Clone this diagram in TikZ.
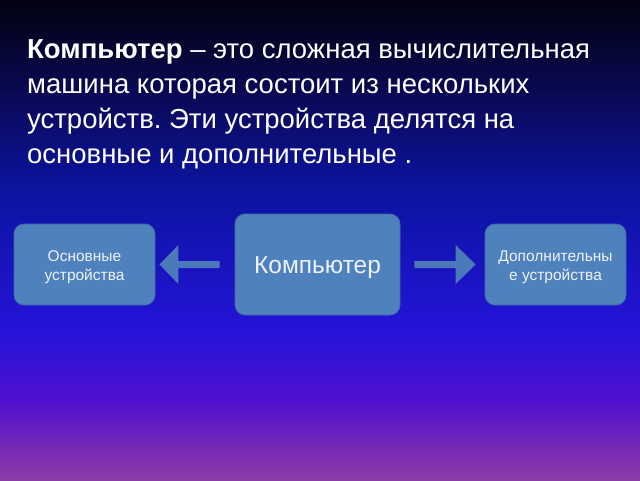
\documentclass[tikz,border=0pt]{standalone}
\usepackage{fontspec}
\setmainfont{Liberation Sans}
\usetikzlibrary{calc}
\frenchspacing
\definecolor{bg0}{HTML}{02020F}
\definecolor{bg1}{HTML}{0A0A5A}
\definecolor{bg2}{HTML}{0C14A0}
\definecolor{bg3}{HTML}{2414D8}
\definecolor{bg4}{HTML}{5010D0}
\definecolor{bg5}{HTML}{8030B0}
\definecolor{bg6}{HTML}{8A3CA8}
\definecolor{boxfill}{HTML}{4F81BD}
\definecolor{boxline}{HTML}{3D6AA6}
\definecolor{arrowcol}{HTML}{4A78B8}
\definecolor{boxtext}{HTML}{EEF2FA}
\pgfdeclareverticalshading{slidebg}{100bp}{%
  color(0bp)=(bg6); color(25bp)=(bg6); color(27.1bp)=(bg5); color(33.3bp)=(bg4);
  color(40.6bp)=(bg3); color(55.2bp)=(bg2); color(64.6bp)=(bg1); color(75bp)=(bg0); color(100bp)=(bg0)}
\newcommand{\lowered}[1]{\raisebox{-3pt}[\height][\depth]{\begin{tabular}{@{}c@{}}#1\end{tabular}}}
\tikzset{
  devbox/.style={draw=boxline, line width=0.8pt, fill=boxfill, rounded corners=10pt,
    text=boxtext, align=center, inner sep=0pt},
  titleline/.style={anchor=base west, text=white, inner sep=0pt,
    font=\fontsize{27.5}{32}\selectfont},
  blockarrow/.style={fill=arrowcol}
}
\begin{document}
\begin{tikzpicture}[x=1pt,y=-1pt]
\shade[shading=slidebg] (0,0) rectangle (640,480);
\useasboundingbox (0,0) rectangle (640,480);
\node[titleline] (t1) at (27,58) {\textbf{Компьютер} – это сложная вычислительная};
\node[titleline] (t2) at (27,93) {машина которая состоит из нескольких};
\node[titleline] (t3) at (27,128) {устройств. Эти устройства делятся на};
\node[titleline] (t4) at (27,163) {основные и дополнительные .};
\node[devbox, minimum width=141pt, minimum height=81pt,
  font=\fontsize{15.5}{18.5}\selectfont] (l) at (84.5,264.5) {\lowered{Основные\\устройства}};
\node[devbox, minimum width=165pt, minimum height=101pt,
  font=\fontsize{24.5}{28}\selectfont] (c) at (317.5,264.5) {\lowered{Компьютер}};
\node[devbox, minimum width=141pt, minimum height=81pt,
  font=\fontsize{15.5}{18.5}\selectfont] (r) at (555.5,264.5) {\lowered{Дополнительны\\е устройства}};
% left arrow
\coordinate (ls) at ($(c.west)+(-15,0)$);
\coordinate (lt) at ($(l.east)+(4,0)$);
\coordinate (lh) at ($(lt)+(19,0)$);
\fill[blockarrow] ($(ls)+(0,-3.5)$) -- ($(lh)+(0,-3.5)$) -- ($(lh)+(0,-19.5)$) -- (lt)
  -- ($(lh)+(0,19.5)$) -- ($(lh)+(0,3.5)$) -- ($(ls)+(0,3.5)$) -- cycle;
% right arrow
\coordinate (rs) at ($(c.east)+(14,0)$);
\coordinate (rt) at ($(r.west)+(-9,0)$);
\coordinate (rh) at ($(rt)+(-20,0)$);
\fill[blockarrow] ($(rs)+(0,-3.5)$) -- ($(rh)+(0,-3.5)$) -- ($(rh)+(0,-19.5)$) -- (rt)
  -- ($(rh)+(0,19.5)$) -- ($(rh)+(0,3.5)$) -- ($(rs)+(0,3.5)$) -- cycle;
\end{tikzpicture}
\end{document}
